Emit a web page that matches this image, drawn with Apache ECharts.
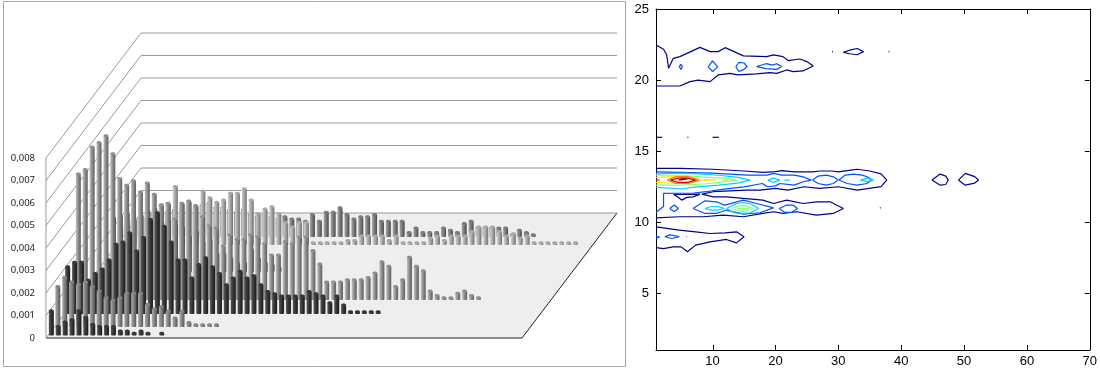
<!DOCTYPE html>
<html>
<head>
<meta charset="utf-8">
<style>
  html, body { margin: 0; padding: 0; background: #fff; }
  #chart { width: 1100px; height: 369px; }
</style>
<script src="https://cdn.jsdelivr.net/npm/echarts@6/dist/echarts.min.js"></script>
</head>
<body>
<div id="chart"></div>
<script>
// left chart: bar heights per row, front row first
const rowA = [.0011,.0004,.0006,.0007,.0011,.0008,.0005,.0004,.0004,.0004,.0002,.0002,.0001,.0002,.0001,0,.0001]
const rowB = [.0018,.0022,.0020,.0019,.0020,.0018,.0016,.0013,.0012,.0013,.0015,.0015,.0015,.0010,.0008,.0009,.0007,.0004,.0007,.0002,.0001,.0001,.0001,.0001]
const rowC = [.0021,.0023,.0023,.0015,.0018,.0020,.0024,.0031,.0032,.0036,.0028,.0034,.0042,.0045,.0039,.0032,.0024,.0024,.0016,.0022,.0025,.0021,.0018,.0013,.0016,.0019,.0016,.0017,.0013,.0010,.0009,.0008,.0008,.0008,.0008,.0010,.0009,.0008,.0005,.0008,.0004,.0001,.0001,.0001,.0001,.0001]
const rowD = [.0056,.0058,.0068,.0070,.0073,.0065,.0054,.0051,.0053,.0048,.0052,.0047,.0042,.0043,.0036,.0043,.0044,.0042,.0037,.0033,.0032,.0024,.0029,.0027,.0027,.0029,.0028,.0025,.0020,.0020,.0026,.0025,.0028,.0028,.0022,.0016,.0008,.0008,.0008,.0009,.0009,.0009,.0010,.0012,.0017,.0015,.0006,.0009,.0019,.0015,.0013,.0004,.0002,.0001,.0001,.0003,.0004,.0002,.0001]
const rowG = [.0001,.0006,.0024,.0025,.0026,.0023,.0025,.0027,.0028,.0022,.0023,.0021,.0020,.0016,.0018,.0013,.0014,.0008,.0008,.0006,.0004,.0004,.0010,.0006,.0004,.0003,.0002]
const rowE = [.0007,.0009,.0011,.0013,.0014,.0013,.0018,.0018,.0026,.0018,.0019,.0017,.0024,.0021,.0019,.0020,.0023,.0023,.0025,.0020,.0014,.0016,.0017,.0014,.0010,.0008,.0010,.0010,.0001,.0001,.0001,.0001,.0001,.0002,.0002,.0004,.0004,.0004,.0004,.0002,.0004,.0001,.0001,.0001,.0001,.0003,.0004,.0002,.0004,.0004,.0004,.0006,.0008,.0008,.0008,.0006,.0004,.0005,.0003,.0004,.0001,.0001,.0001,.0001,.0001,.0001,.0001]
const rowF = [.0005,.0007,.0008,.0008,.0010,.0011,.0011,.0012,.0013,.0014,.0013,.0014,.0015,.0013,.0013,.0012,.0011,.0012,.0010,.0009,.0010,.0009,.0008,.0009,.0008,.0008,.0007,.0010,.0007,.0011,.0011,.0013,.0010,.0008,.0009,.0009,.0010,.0007,.0007,.0007,.0007,.0002,.0004,.0002,.0002,.0002,.0004,.0003,.0002,.0006,.0007,.0004,.0004,.0004,.0004,.0004,.0001,.0003,.0002,.0001]
const barTicks = [0, .001, .002, .003, .004, .005, .006, .007, .008]
const barCategories = Array.from({ length: 69 }, (_, i) => String(i + 1))

// right chart: contour lines in axis units, one list per level
const contourLevel1 = [
  [[1,10.3],[4.8,10.38],[8.5,10.38],[11.7,10.49],[14.9,10.38],[18,10.61],[19.7,10.73],[21.2,10.61],[23.4,10.73],[26.5,10.49],[29.2,10.61],[30.8,10.96],[28.7,11.43],[26.5,11.43],[24.4,11.31],[21.8,11.55],[19.7,11.31],[18,11.55],[14.9,11.67],[12.2,11.78],[10.1,11.78],[8.3,11.97],[10.1,12.14],[15.4,12.25],[17.5,12.25],[20,12.37],[22,12.25],[24.5,12.49],[27,12.37],[30,12.49],[33,12.25],[36.8,12.5],[37.7,12.96],[36.8,13.4],[35,13.6],[33,13.72],[32,13.66],[30,13.54],[29,13.6],[27,13.6],[26,13.54],[23,13.54],[21,13.62],[20,13.55],[18,13.5],[15,13.6],[10,13.72],[5,13.78],[1,13.78]],
  [[3.8,11.95],[8,11.97],[6.9,11.78],[5.9,11.74],[5.1,11.55],[4.4,11.78],[3.8,11.95]],
  [[1,9.67],[4.7,9.44],[7.3,9.32],[9.6,9.2],[12,9.25],[13.8,9.32],[15,8.97],[13.8,8.54],[12.2,8.78],[9.6,8.61],[7.3,8.38],[6,7.91],[5,8.26],[3.7,8.26],[2.2,8.14],[1,8.2]],
  [[1,22.47],[2.2,22.17],[2.7,21.77],[3,20.83],[3.75,21.53],[4.8,21.65],[8,22.3],[9.6,22],[10.9,22],[12,22.28],[14.9,21.7],[18.6,21.65],[19.7,21.77],[21.2,21.65],[22,21.37],[23.9,21.48],[25,21.3],[26,20.99],[24.4,20.64],[22.8,20.59],[21.8,20.71],[20.2,20.47],[19.1,20.52],[17,20.43],[14,20.36],[12.8,20.47],[10.9,20.36],[9.6,19.89],[7.7,20],[6.4,19.89],[4.8,19.58],[1,19.58]],
  [[30.8,21.95],[31.8,22.1],[33,22.22],[34,22],[33,21.78],[31.8,21.85],[30.8,21.95]],
  [[29,22],[29.15,22]],
  [[38,22],[38.15,22]],
  [[1,15.97],[2,15.97]],
  [[6,15.97],[6.15,15.97]],
  [[10,15.97],[11,15.97]],
  [[44.9,12.96],[46.2,13.38],[47.1,13.24],[47.5,12.96],[47.1,12.65],[46.2,12.6],[44.9,12.96]],
  [[49.1,12.96],[50.2,13.43],[51.7,13.2],[52.3,12.96],[51.7,12.75],[50.2,12.6],[49.1,12.96]],
  [[36.6,11],[36.75,11]]
]
const contourLevel2 = [
  [[1,10.7],[2.2,11.1],[2.2,12.02],[7,12.05],[9,12.14],[11.5,12.3],[15,12.48],[17.9,12.72],[18.7,12.49],[20,12.55],[20.2,12.55],[20.7,12.72],[23,12.6],[24.4,12.84],[25.7,12.96],[24.4,13.19],[23,13.31],[21,13.31],[19.7,13.43],[18.7,13.31],[15.5,13.31],[10,13.45],[5,13.5],[1,13.54]],
  [[25.9,12.96],[26.8,13.24],[28.1,13.31],[29.2,13.19],[30,12.96],[29.2,12.72],[28.1,12.6],[26.8,12.72],[25.9,12.96]],
  [[30.1,12.96],[31.1,13.31],[32.4,13.38],[33.8,13.31],[34.6,13.19],[35.3,13],[34.6,12.72],[33,12.6],[31.4,12.72],[30.1,12.96]],
  [[6.9,10.96],[8.8,11.5],[10.6,11.43],[11.9,11.2],[14.9,11.55],[17,11.31],[19.7,11.0],[17.5,10.66],[14.9,10.56],[12.2,10.85],[10.6,10.61],[8.8,10.61],[6.9,10.96]],
  [[20.6,10.96],[21.8,11.2],[22.8,11.2],[23.5,10.96],[22.6,10.68],[21.5,10.68],[20.6,10.96]],
  [[3.2,10.96],[3.9,11.2],[4.55,10.96],[3.9,10.73],[3.2,10.96]],
  [[1,8.97],[1.6,8.97],[1,8.85]],
  [[2.4,8.97],[3.2,9.1],[4.3,9.02],[4.7,8.97],[3.5,8.85],[2.4,8.97]],
  [[5.8,8.97],[5.95,8.97]],
  [[4.7,20.95],[4.95,21.1],[5.2,20.95],[4.95,20.75],[4.7,20.95]],
  [[9.3,20.93],[10,21.35],[10.8,20.93],[10,20.6],[9.3,20.93]],
  [[13.7,20.93],[14.2,21.25],[15,21.2],[15.5,20.95],[15,20.75],[14.2,20.6],[13.7,20.93]],
  [[17,20.95],[18.5,21.15],[19.5,21.05],[20.2,21.15],[21,20.95],[20.2,20.75],[18.5,20.8],[17,20.95]]
]
const contourLevel3 = [
  [[1,13.4],[5,13.45],[8,13.4],[11,13.3],[14,13.15],[16,12.96],[14,12.75],[11,12.6],[8,12.5],[5,12.35],[1,12.45]],
  [[18.8,12.96],[19.7,13.1],[20.7,12.96],[19.7,12.8],[18.8,12.96]],
  [[21.4,12.96],[22.3,12.96]],
  [[33.5,12.96],[34.7,13.1],[35.6,12.96],[34.7,12.85],[33.5,12.96]],
  [[8.8,10.96],[9.8,11.1],[10.9,11.1],[11.9,10.96],[10.7,10.85],[9.8,10.85],[8.8,10.96]],
  [[12.2,10.96],[13.8,11.31],[14.9,11.38],[16.2,11.26],[17.3,10.96],[16,10.66],[14.9,10.61],[13.5,10.66],[12.2,10.96]]
]
const contourLevel4 = [
  [[1,13.3],[5,13.3],[9,13.15],[12,13.1],[14,12.96],[12,12.85],[9,12.7],[5,12.6],[1,12.6]],
  [[13,10.96],[14.3,11.14],[15.3,11.14],[16.4,10.96],[15.3,10.78],[14.3,10.78],[13,10.96]],
  [[13.9,10.96],[15.8,10.96]]
]
const contourLevel5 = [
  [[1,13.15],[4,13.2],[6.5,13.15],[8.3,12.96],[6.5,12.75],[4,12.72],[1,12.8]],
  [[8.5,12.98],[10.6,12.98],[10.6,12.94],[8.5,12.94]],
  [[11.7,12.98],[12.5,12.98],[12.5,12.94],[11.7,12.94]]
]
const contourLevel6 = [
  [[1.1,13.02],[1.6,12.96],[1.1,12.9]],
  [[2.8,12.96],[4.2,13.2],[6.2,13.2],[7.8,12.96],[6.2,12.72],[4.2,12.72],[2.8,12.96]]
]
const contourLevel7 = [
  [[3.3,12.96],[4.5,13.1],[6,13.1],[7.3,12.96],[6,12.8],[4.5,12.8],[3.3,12.96]]
]
const contourLevel8 = [
  [[4.6,12.96],[5.2,13.05],[6,13.05],[6.2,12.96],[4.6,12.96]]
]
const contourTicksX = [10, 20, 30, 40, 50, 60, 70]
const contourTicksY = [5, 10, 15, 20, 25]

// depth is how far a row sits behind the front edge of the floor, in px
const DEPTH_DX = 95 / 125
const TICK_LEN = 5
const barRows = [
  { data: rowF, depth: 101, colors: ['#a8a8a8', '#7c7c7c', '#4c4c4c'] },
  { data: rowE, depth: 93, colors: ['#d2d2d2', '#a8a8a8', '#727272'] },
  { data: rowG, depth: 66, colors: ['#a0a0a0', '#747474', '#484848'] },
  { data: rowD, depth: 38, colors: ['#c4c4c4', '#8f8f8f', '#5e5e5e'] },
  { data: rowC, depth: 24, colors: ['#585858', '#383838', '#1a1a1a'] },
  { data: rowB, depth: 11, colors: ['#b0b0b0', '#868686', '#585858'] },
  { data: rowA, depth: 2.5, colors: ['#585858', '#383838', '#1a1a1a'] }
]
const contourLevels = [
  { lines: contourLevel1, color: '#00008f' },
  { lines: contourLevel2, color: '#0050ff' },
  { lines: contourLevel3, color: '#00d0ff' },
  { lines: contourLevel4, color: '#80ff80' },
  { lines: contourLevel5, color: '#ffe000' },
  { lines: contourLevel6, color: '#ff8000' },
  { lines: contourLevel7, color: '#e00000' },
  { lines: contourLevel8, color: '#800000' }
]

const chart = echarts.init(document.getElementById('chart'), null, { renderer: 'canvas' })

const renderFloor = (params, api) => {
  const box = params.coordSys
  const base = api.coord([0, 0])[1]
  const depth = 125
  const dx = depth * DEPTH_DX
  const left = box.x
  const right = box.x + box.width
  return {
    type: 'group',
    children: [
      {
        type: 'polygon',
        shape: { points: [[left, base], [right, base], [right + dx, base - depth], [left + dx, base - depth]] },
        style: { fill: '#eeeeee', stroke: null }
      },
      {
        type: 'polyline',
        shape: { points: [[left, base], [right, base], [right + dx, base - depth]] },
        style: { stroke: '#222', lineWidth: 1, fill: null }
      },
      {
        type: 'line',
        shape: { x1: left, y1: api.coord([0, 0.008])[1], x2: left, y2: base },
        style: { stroke: '#999', lineWidth: 1 }
      }
    ]
  }
}

const renderWallLine = (params, api) => {
  const box = params.coordSys
  const y = api.coord([0, api.value(0)])[1]
  const depth = 125
  const dx = depth * DEPTH_DX
  return {
    type: 'polyline',
    shape: { points: [[box.x, y], [box.x + dx, y - depth], [box.x + box.width + dx, y - depth]] },
    style: { stroke: '#9a9a9a', lineWidth: 1, fill: null }
  }
}

const makeBarRenderer = (row) => (params, api) => {
  const top = api.coord([api.value(0), api.value(1)])
  const bottom = api.coord([api.value(0), 0])
  const x = top[0] + row.depth * DEPTH_DX
  const yTop = top[1] - row.depth
  const yBase = bottom[1] - row.depth
  const w = 5
  const fill = new echarts.graphic.LinearGradient(0, 0, 1, 0, [
    { offset: 0, color: row.colors[0] },
    { offset: 0.45, color: row.colors[1] },
    { offset: 1, color: row.colors[2] }
  ])
  return {
    type: 'group',
    children: [
      {
        type: 'rect',
        shape: { x: x - w / 2, y: yTop, width: w, height: yBase - yTop, r: 1 },
        style: { fill: fill }
      },
      {
        type: 'ellipse',
        shape: { cx: x, cy: yTop, rx: w / 2, ry: 1.4 },
        style: { fill: row.colors[1] }
      }
    ]
  }
}

const tickLine = (x1, y1, x2, y2) => ({
  type: 'line',
  shape: { x1: x1, y1: y1, x2: x2, y2: y2 },
  style: { stroke: '#000', lineWidth: 1 }
})

// inward ticks on all four sides, like the matlab axes box
const renderTicksX = (params, api) => {
  const box = params.coordSys
  const x = Math.round(api.coord([api.value(0), 1])[0]) + 0.5
  const bottom = box.y + box.height
  return {
    type: 'group',
    children: [tickLine(x, bottom, x, bottom - TICK_LEN), tickLine(x, box.y, x, box.y + TICK_LEN)]
  }
}

const renderTicksY = (params, api) => {
  const box = params.coordSys
  const y = Math.round(api.coord([1, api.value(0)])[1]) + 0.5
  const right = box.x + box.width
  return {
    type: 'group',
    children: [tickLine(box.x, y, box.x + TICK_LEN, y), tickLine(right, y, right - TICK_LEN, y)]
  }
}

const barSeries = barRows.map(row => ({
  type: 'custom',
  xAxisIndex: 0,
  yAxisIndex: 0,
  silent: true,
  clip: false,
  z: 3,
  renderItem: makeBarRenderer(row),
  encode: { x: 0, y: 1 },
  data: row.data.map((v, i) => [i, v]).filter(d => d[1] > 0)
}))

const contourSeries = []
contourLevels.forEach((level, idx) => {
  level.lines.forEach(line => {
    contourSeries.push({
      type: 'line',
      xAxisIndex: 1,
      yAxisIndex: 1,
      symbol: 'none',
      silent: true,
      clip: false,
      z: 4 + idx,
      lineStyle: { color: level.color, width: 1.2 },
      data: line
    })
  })
})

const option = {
  animation: false,
  backgroundColor: '#fff',
  graphic: [{
    type: 'rect',
    shape: { x: 3.5, y: 1.5, width: 622, height: 365 },
    style: { fill: null, stroke: '#a6a6a6', lineWidth: 1 },
    silent: true
  }],
  grid: [
    { left: 46, top: 158, width: 476, height: 180 },
    { left: 656, top: 9, width: 434, height: 341 }
  ],
  xAxis: [
    {
      gridIndex: 0,
      type: 'category',
      data: barCategories,
      axisLine: { show: false },
      axisTick: { show: false },
      axisLabel: { show: false },
      splitLine: { show: false }
    },
    {
      gridIndex: 1,
      type: 'value',
      min: 1,
      max: 70,
      axisLine: { onZero: false, lineStyle: { color: '#000', width: 1 } },
      axisTick: { show: false },
      axisLabel: {
        customValues: contourTicksX,
        color: '#000',
        fontFamily: 'Liberation Sans',
        fontSize: 13,
        margin: 5
      },
      splitLine: { show: false }
    },
    {
      gridIndex: 1,
      type: 'value',
      position: 'top',
      min: 1,
      max: 70,
      axisLine: { onZero: false, lineStyle: { color: '#000', width: 1 } },
      axisTick: { show: false },
      axisLabel: { show: false },
      splitLine: { show: false }
    }
  ],
  yAxis: [
    {
      gridIndex: 0,
      type: 'value',
      min: 0,
      max: 0.008,
      interval: 0.001,
      axisLine: { show: false },
      axisTick: { show: false },
      splitLine: { show: false },
      axisLabel: {
        color: '#222',
        fontFamily: 'Noto Sans',
        fontSize: 9.5,
        margin: 11,
        formatter: v => (v === 0 ? '0' : v.toFixed(3).replace('.', ','))
      }
    },
    {
      gridIndex: 1,
      type: 'value',
      min: 1,
      max: 25,
      axisLine: { onZero: false, lineStyle: { color: '#000', width: 1 } },
      axisTick: { show: false },
      axisLabel: {
        customValues: contourTicksY,
        color: '#000',
        fontFamily: 'Liberation Sans',
        fontSize: 13,
        margin: 7
      },
      splitLine: { show: false }
    },
    {
      gridIndex: 1,
      type: 'value',
      position: 'right',
      min: 1,
      max: 25,
      axisLine: { onZero: false, lineStyle: { color: '#000', width: 1 } },
      axisTick: { show: false },
      axisLabel: { show: false },
      splitLine: { show: false }
    }
  ],
  series: [
    {
      type: 'custom',
      xAxisIndex: 0,
      yAxisIndex: 0,
      silent: true,
      clip: false,
      z: 1,
      renderItem: renderFloor,
      data: [[0, 0]]
    },
    {
      type: 'custom',
      xAxisIndex: 0,
      yAxisIndex: 0,
      silent: true,
      clip: false,
      z: 2,
      renderItem: renderWallLine,
      encode: { y: 0 },
      data: barTicks.map(v => [v])
    },
    ...barSeries,
    ...contourSeries,
    {
      type: 'custom',
      xAxisIndex: 1,
      yAxisIndex: 1,
      silent: true,
      clip: false,
      z: 20,
      renderItem: renderTicksX,
      encode: { x: 0 },
      data: contourTicksX.map(v => [v])
    },
    {
      type: 'custom',
      xAxisIndex: 1,
      yAxisIndex: 1,
      silent: true,
      clip: false,
      z: 20,
      renderItem: renderTicksY,
      encode: { y: 0 },
      data: contourTicksY.map(v => [v])
    }
  ]
}

chart.setOption(option)
</script>
</body>
</html>
